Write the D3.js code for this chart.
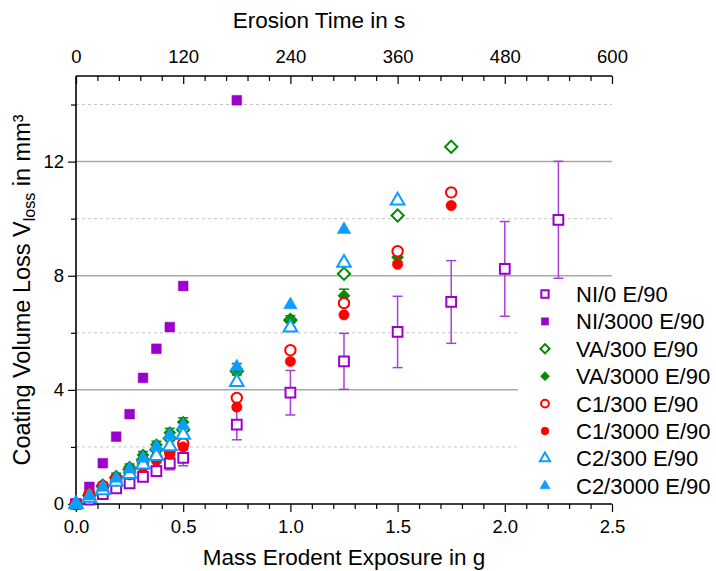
<!DOCTYPE html>
<html><head><meta charset="utf-8">
<script src="https://cdn.jsdelivr.net/npm/d3@7"></script>
<style>body{margin:0;background:#fff}svg{display:block;font-family:"Liberation Sans",Arial,sans-serif}</style>
</head><body><svg id="c" width="716" height="571"></svg>
<script>
const xs = [0, 0.0625, 0.125, 0.1875, 0.25, 0.3125, 0.375, 0.4375, 0.5, 0.75, 1.0, 1.25, 1.5, 1.75, 2.0, 2.25];
const ni0 = [0, 0.15, 0.35, 0.55, 0.72, 0.95, 1.15, 1.42, 1.62, 2.78, 3.9, 5.0, 6.03, 7.08, 8.24, 9.96];
const ni0Err = [0, 0.05, 0.08, 0.1, 0.12, 0.15, 0.18, 0.22, 0.28, 0.53, 0.78, 0.98, 1.25, 1.45, 1.66, 2.05];
const ni3000 = [0, 0.6, 1.43, 2.36, 3.15, 4.42, 5.44, 6.2, 7.64, 14.15];
const va300 = [0, 0.3, 0.62, 0.92, 1.22, 1.55, 1.9, 2.3, 2.6, 4.65, 6.45, 8.07, 10.11, 12.52];
const va3000 = [0, 0.33, 0.68, 0.98, 1.3, 1.72, 2.08, 2.5, 2.87, 4.72, 6.4, 7.3, 8.65];
const va3000Err = [0, 0.05, 0.08, 0.1, 0.1, 0.12, 0.12, 0.15, 0.15, 0.2, 0.2, 0.23, 0.15];
const c1300 = [0, 0.35, 0.62, 0.88, 1.12, 1.38, 1.62, 1.88, 2.12, 3.72, 5.39, 7.04, 8.86, 10.92];
const c13000 = [0, 0.3, 0.55, 0.8, 1.02, 1.28, 1.52, 1.74, 2.0, 3.4, 5.0, 6.63, 8.4, 10.46];
const c2300 = [0, 0.22, 0.48, 0.78, 1.05, 1.38, 1.68, 2.02, 2.42, 4.27, 6.18, 8.45, 10.63];
const c23000 = [0, 0.28, 0.58, 0.9, 1.22, 1.6, 2.0, 2.4, 2.75, 4.81, 6.98, 9.62];
const seriesNames = ["NI/0 E/90","NI/3000 E/90","VA/300 E/90","VA/3000 E/90","C1/300 E/90","C1/3000 E/90","C2/300 E/90","C2/3000 E/90"];
const xTicks = [0, 0.5, 1.0, 1.5, 2.0, 2.5];
const tTicks = [0, 120, 240, 360, 480, 600];
const yTicks = [0, 4, 8, 12];
const yMinor = [2, 6, 10, 14];

const PURPLE = "#9B00CC", GREEN = "#008C00", RED = "#FF0000", BLUE = "#0A9EFF";
const series = [
  {name: seriesNames[0], vals: ni0, err: ni0Err, shape: "square", fill: false, color: PURPLE, errColor: "#A83FD6"},
  {name: seriesNames[1], vals: ni3000, shape: "square", fill: true, color: PURPLE},
  {name: seriesNames[2], vals: va300, shape: "diamond", fill: false, color: GREEN},
  {name: seriesNames[3], vals: va3000, err: va3000Err, shape: "diamond", fill: true, color: GREEN, errColor: GREEN},
  {name: seriesNames[4], vals: c1300, shape: "circle", fill: false, color: RED},
  {name: seriesNames[5], vals: c13000, shape: "circle", fill: true, color: RED},
  {name: seriesNames[6], vals: c2300, shape: "triangle", fill: false, color: BLUE},
  {name: seriesNames[7], vals: c23000, shape: "triangle", fill: true, color: BLUE}
];

const svg = d3.select("#c");
const L = 76, R = 612, T = 76, B = 504;
const x = d3.scaleLinear().domain([0, 2.5]).range([L, R]);
const xt = d3.scaleLinear().domain([0, 600]).range([L, R]);
const y = d3.scaleLinear().domain([0, 15]).range([B, T]);

// grid
svg.append("g").selectAll("line").data(yMinor).join("line")
  .attr("x1", L).attr("x2", R).attr("y1", d => y(d)).attr("y2", d => y(d))
  .attr("stroke", "#c4c4c4").attr("stroke-width", 1).attr("stroke-dasharray", "3,3");
svg.append("g").selectAll("line").data(yTicks.filter(d => d > 0)).join("line")
  .attr("x1", L).attr("x2", R).attr("y1", d => y(d)).attr("y2", d => y(d))
  .attr("stroke", "#a8a8a8").attr("stroke-width", 1.5);

// axes
const fs = "18.5px";
const gB = svg.append("g").attr("transform", `translate(0,${B})`)
  .call(d3.axisBottom(x).tickValues(xTicks).tickFormat(d3.format(".1f")).tickSize(8).tickPadding(8));
svg.append("g").attr("transform", `translate(0,${B})`)
  .call(d3.axisBottom(x).tickValues(d3.range(0, 2.51, 0.1).filter(v => Math.abs(v*2 - Math.round(v*2)) > 1e-6)).tickFormat("").tickSize(5))
  .select(".domain").remove();
const gT = svg.append("g").attr("transform", `translate(0,${T})`)
  .call(d3.axisTop(xt).tickValues(tTicks).tickSize(-8).tickPadding(13));
svg.append("g").attr("transform", `translate(0,${T})`)
  .call(d3.axisTop(xt).tickValues(d3.range(24, 600, 24).filter(v => v % 120 !== 0)).tickFormat("").tickSize(-5))
  .select(".domain").remove();
const gL = svg.append("g").attr("transform", `translate(${L},0)`)
  .call(d3.axisLeft(y).tickValues(yTicks).tickSize(8).tickPadding(4));
svg.append("g").attr("transform", `translate(${L},0)`)
  .call(d3.axisLeft(y).tickValues(yMinor).tickFormat("").tickSize(5))
  .select(".domain").remove();
svg.selectAll(".tick text").attr("font-size", fs).attr("font-family", '"Liberation Sans",Arial,sans-serif').attr("fill", "#000");
svg.selectAll(".domain").attr("stroke", "#000").attr("stroke-width", 1.6);
svg.selectAll(".tick line").attr("stroke", "#000").attr("stroke-width", 1.2);
gB.select(".domain").attr("d", `M${L},0H${R}`);
gT.select(".domain").attr("d", `M${L},0H${R}`);
gL.select(".domain").attr("d", `M0,${T}V${B}`);

// titles
svg.append("text").attr("x", 319).attr("y", 28).attr("text-anchor", "middle")
  .attr("font-size", "22.5px").text("Erosion Time in s");
svg.append("text").attr("x", 344).attr("y", 565).attr("text-anchor", "middle")
  .attr("font-size", "22.5px").text("Mass Erodent Exposure in g");
const yt = svg.append("text").attr("transform", `translate(30,${(T + B) / 2}) rotate(-90)`)
  .attr("text-anchor", "middle").attr("font-size", "23.5px");
yt.append("tspan").text("Coating Volume Loss V");
yt.append("tspan").attr("font-size", "16px").attr("dy", 5).text("loss");
yt.append("tspan").attr("dy", -5).text(" in mm³");

// markers
function shapePath(shape, scale) {
  const s = scale || 1;
  if (shape === "square") return d3.symbol(d3.symbolSquare, 95 * s * s)();
  if (shape === "diamond") return d3.symbol(d3.symbolSquare, 75 * s * s)();
  if (shape === "circle") return d3.symbol(d3.symbolCircle, 85 * s * s)();
  return d3.symbol(d3.symbolTriangle, 80 * s * s)();
}
const plot = svg.append("g");
series.forEach(s => {
  const g = plot.append("g");
  const pts = s.vals.map((v, i) => ({x: xs[i], v, e: s.err ? s.err[i] : 0}));
  if (s.err) {
    const eg = g.append("g").attr("stroke", s.errColor).attr("stroke-width", 1.5);
    pts.filter(p => p.e > 0).forEach(p => {
      const cx = x(p.x);
      eg.append("line").attr("x1", cx).attr("x2", cx).attr("y1", y(p.v - p.e)).attr("y2", y(p.v + p.e));
      eg.append("line").attr("x1", cx - 5).attr("x2", cx + 5).attr("y1", y(p.v - p.e)).attr("y2", y(p.v - p.e));
      eg.append("line").attr("x1", cx - 5).attr("x2", cx + 5).attr("y1", y(p.v + p.e)).attr("y2", y(p.v + p.e));
    });
  }
  g.selectAll("path.m").data(pts).join("path").attr("class", "m")
    .attr("d", shapePath(s.shape))
    .attr("transform", d => `translate(${x(d.x)},${y(d.v)})` + (s.shape === "diamond" ? " rotate(45)" : ""))
    .attr("fill", s.fill ? s.color : "#fff")
    .attr("stroke", s.color).attr("stroke-width", s.fill ? 0.5 : 2);
});

// legend
const lg = svg.append("g");
lg.append("rect").attr("x", 518).attr("y", 279).attr("width", 198).attr("height", 222).attr("fill", "#fff");
series.forEach((s, i) => {
  const cy = 294 + i * 27.4;
  lg.append("path").attr("d", shapePath(s.shape, 0.75))
    .attr("transform", `translate(545,${cy})` + (s.shape === "diamond" ? " rotate(45)" : ""))
    .attr("fill", s.fill ? s.color : "#fff").attr("stroke", s.color).attr("stroke-width", s.fill ? 0.5 : 2);
  lg.append("text").attr("x", 576).attr("y", cy + 8).attr("font-size", "22px").text(s.name);
});
</script></body></html>
